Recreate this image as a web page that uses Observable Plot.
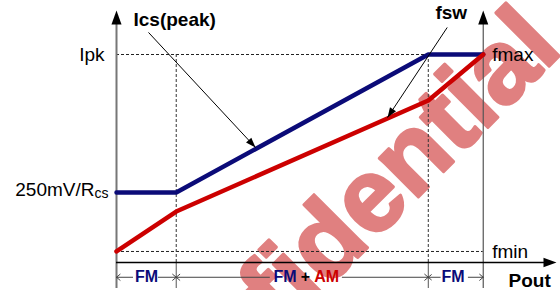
<!DOCTYPE html>
<html><head><meta charset="utf-8">
<script src="https://cdn.jsdelivr.net/npm/d3@7"></script>
<script src="https://cdn.jsdelivr.net/npm/@observablehq/plot@0.6"></script>
<style>html,body{margin:0;padding:0;background:#fff;overflow:hidden;}</style>
</head><body><div id="chart"></div>
<script>
// ---- data (Pout in arbitrary units, levels normalised so Ipk = fmax = 1) ----
const pout = [0, 1, 5.22, 6.14];            // region boundaries along Pout
const icsPeak = [0.337, 0.337, 1, 1];       // Ics(peak) curve
const fsw = [0.053, 0.245, 0.779, 1];       // switching frequency curve
const ipkLevel = 1;
const fminLevel = 0.053;
const leftTickY = [0.337, 1];
const leftTickLabels = ["250mV/R", "Ipk"];
const rightTickY = [0.053, 1];
const rightTickLabels = ["fmin", "fmax"];
const modeNames = ["FM", "FM", "+", "AM", "FM"];
const modeNameX = [0.502, 2.82, 3.164, 3.52, 5.634];
const modeGapStart = [0.27, 2.56, 5.42];
const modeGapEnd = [0.70, 3.78, 5.89];
const annoText = ["Ics(peak)", "fsw"];
const annoX = [0.285, 5.34];
const annoY = [1.168, 1.201];
const annoArrowFrom = [[0.536, 1.106], [5.537, 1.130]];
const annoArrowTo = [[2.327, 0.553], [4.537, 0.697]];
const watermark = "Confidential";
const watermarkAt = [3.55, 0.11];

// ---- layout ----
const W = 560, H = 290, mL = 116, mR = 2, mT = 54, mB = 28;
const xDomain = [0, 7.4], yDomain = [0, 1];
const kx = (W - mL - mR) / (xDomain[1] - xDomain[0]);
const ky = (H - mT - mB) / (yDomain[1] - yDomain[0]);
const angle = (x1, y1, x2, y2) => Math.atan2((x2 - x1) * kx, (y2 - y1) * ky) * 180 / Math.PI;
const NAVY = "#0b0b78", RED = "#cc0000", PINK = "#e08080";
const FONT = "Liberation Sans, Arial, sans-serif";
const axisBottom = -0.125, axisTop = 1.144, axisTip = 1.2115, xTip = 7.366, modeY = -0.071;

const head = {draw(ctx, size) {
  const r = Math.sqrt(size / Math.PI);
  ctx.moveTo(0, 0); ctx.lineTo(0.72 * r, 2 * r); ctx.lineTo(-0.72 * r, 2 * r); ctx.closePath();
}};

const curve = (ys) => pout.map((x, i) => ({x, y: ys[i]}));
const modeArrows = d3.range(3).flatMap(i => [
  {x1: modeGapStart[i], x2: pout[i]},
  {x1: modeGapEnd[i], x2: pout[i + 1]}
]);
const annoArrows = annoArrowFrom.map((f, i) => ({x1: f[0], y1: f[1], x2: annoArrowTo[i][0], y2: annoArrowTo[i][1],
  a: angle(f[0], f[1], annoArrowTo[i][0], annoArrowTo[i][1])}));
const axisHeads = [
  {x: pout[0], y: axisTip, a: 0},
  {x: pout[3], y: axisTip, a: 0},
  {x: xTip, y: 0, a: 90}
];

const chart = Plot.plot({
  width: W, height: H, marginLeft: mL, marginRight: mR, marginTop: mT, marginBottom: mB,
  x: {domain: xDomain, axis: null},
  y: {domain: yDomain, axis: null},
  style: {fontFamily: FONT, background: "white"},
  marks: [
    // watermark
    Plot.text([watermark], {x: watermarkAt[0], y: watermarkAt[1], text: d => d, rotate: -45, fontSize: 104,
      fontWeight: "bold", fontFamily: "Liberation Sans", fill: PINK, stroke: PINK, strokeWidth: 3, strokeLinejoin: "round"}),
    // dashed guides
    Plot.ruleY([ipkLevel, fminLevel], {x1: pout[0], x2: pout[3], stroke: "#222", strokeWidth: 1, strokeDasharray: "3,2"}),
    Plot.ruleX([pout[1], pout[2]], {y1: 0, y2: ipkLevel, stroke: "#333", strokeWidth: 1, strokeDasharray: "3,2"}),
    // axes
    Plot.ruleX([pout[0]], {y1: axisBottom, y2: axisTop, stroke: "#777", strokeWidth: 2}),
    Plot.ruleX([pout[3]], {y1: axisBottom, y2: axisTop, stroke: "#555", strokeWidth: 1.2}),
    Plot.ruleX([pout[1], pout[2]], {y1: axisBottom, y2: 0, stroke: "#555", strokeWidth: 1}),
    Plot.ruleY([0], {x1: pout[0], x2: xTip - 0.15, stroke: "#000", strokeWidth: 1.6}),
    Plot.dot(axisHeads.slice(0, 2), {x: "x", y: "y", rotate: "a", symbol: head, r: 7, fill: "#000", stroke: "none"}),
    Plot.dot(axisHeads.slice(2), {x: "x", y: "y", rotate: "a", symbol: head, r: 6.5, fill: "#000", stroke: "none"}),
    // mode range arrows
    Plot.arrow(modeArrows, {x1: "x1", x2: "x2", y1: modeY, y2: modeY, stroke: "#444", strokeWidth: 1, headLength: 7, headAngle: 80}),
    // curves
    Plot.line(curve(icsPeak), {x: "x", y: "y", stroke: NAVY, strokeWidth: 4.5, strokeLinejoin: "miter"}),
    Plot.line(curve(fsw), {x: "x", y: "y", stroke: RED, strokeWidth: 4.5}),
    // annotation arrows
    Plot.link(annoArrows, {x1: "x1", y1: "y1", x2: "x2", y2: "y2", stroke: "#000", strokeWidth: 1}),
    Plot.dot(annoArrows, {x: "x2", y: "y2", rotate: "a", symbol: head, r: 5, fill: "#000", stroke: "none"}),
    // labels
    Plot.text(annoText, {x: (d, i) => annoX[i], y: (d, i) => annoY[i], text: d => d, textAnchor: "start",
      fontSize: 19, fontWeight: "bold", fill: "#000"}),
    Plot.text(leftTickLabels, {x: pout[0], y: (d, i) => leftTickY[i], text: d => d, textAnchor: "end",
      dx: -22, dy: -2, fontSize: 19, fill: "#000", filter: (d, i) => i === 0}),
    Plot.text(["cs"], {x: pout[0], y: leftTickY[0], text: d => d, textAnchor: "start", dx: -22, dy: 1, fontSize: 14, fill: "#000"}),
    Plot.text(leftTickLabels, {x: pout[0], y: (d, i) => leftTickY[i], text: d => d, textAnchor: "end",
      dx: -12, fontSize: 19, fill: "#000", filter: (d, i) => i === 1}),
    Plot.text(rightTickLabels, {x: pout[3], y: (d, i) => rightTickY[i], text: d => d, textAnchor: "start",
      dx: 9, fontSize: 19, fill: "#000"}),
    Plot.text(modeNames, {x: (d, i) => modeNameX[i], y: modeY, text: d => d, fontSize: 16, fontWeight: "bold",
      fill: d => d === "AM" ? RED : d === "+" ? "#000" : NAVY}),
    Plot.text(["Pout"], {x: 6.563, y: -0.089, text: d => d, textAnchor: "start", fontSize: 19, fontWeight: "bold", fill: "#000"})
  ]
});
document.getElementById("chart").appendChild(chart);
</script>
</body></html>
